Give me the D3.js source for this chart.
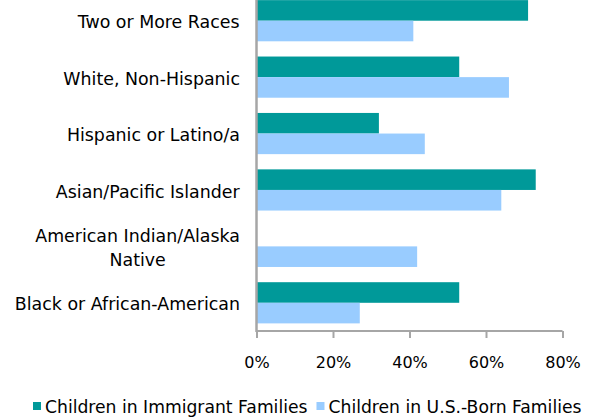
<!DOCTYPE html>
<html><head><meta charset="utf-8">
<script src="https://cdn.jsdelivr.net/npm/d3@7"></script>
<style>body{margin:0;background:#fff}svg{display:block}text{font-family:"DejaVu Sans",sans-serif;fill:#000}</style>
</head><body>
<svg id="c" width="595" height="417"></svg>
<script>
const categories = ["Two or More Races","White, Non-Hispanic","Hispanic or Latino/a","Asian/Pacific Islander","American Indian/Alaska Native","Black or African-American"];
const labelLines = [["Two or More Races"],["White, Non-Hispanic"],["Hispanic or Latino/a"],["Asian/Pacific Islander"],["American Indian/Alaska","Native"],["Black or African-American"]];
const seriesNames = ["Children in Immigrant Families","Children in U.S.-Born Families"];
const immigrant = [71,53,32,73,null,53];
const usBorn = [41,66,44,64,42,27];
const ticks = [0,20,40,60,80];
const colors = ["#009999","#99CCFF"];

const svg = d3.select("#c");
const x = d3.scaleLinear().domain([0,80]).range([256.5,562.5]);
const y = d3.scaleBand().domain(categories).range([-7.5,331]).paddingInner(0.27).paddingOuter(0.135);
const sub = d3.scaleBand().domain([0,1]).range([0,y.bandwidth()]);
const series = [immigrant, usBorn];

series.forEach((vals,si)=>{
  svg.append("g").selectAll("rect").data(categories.map((c,i)=>({c,v:vals[i]})).filter(d=>d.v!=null))
    .join("rect")
    .attr("x",x(0)).attr("y",d=>y(d.c)+sub(si))
    .attr("width",d=>x(d.v)-x(0)).attr("height",sub.bandwidth())
    .attr("fill",colors[si]);
});

// x axis
const xa = svg.append("g").attr("transform","translate(0,331)")
  .call(d3.axisBottom(x).tickValues(ticks).tickFormat(d=>d+"%").tickSize(7).tickPadding(19));
xa.select(".domain").attr("stroke","#A6A6A6").attr("stroke-width",2).attr("d",`M${x(0)},0H${x(80)}`);
xa.selectAll(".tick line").attr("stroke","#A6A6A6").attr("stroke-width",2);
xa.selectAll(".tick text").attr("font-size",16).attr("font-family","DejaVu Sans").attr("fill","#000");

// y axis line
svg.append("line").attr("x1",x(0)).attr("x2",x(0)).attr("y1",0).attr("y2",332)
  .attr("stroke","#A6A6A6").attr("stroke-width",2.5);

// category labels
categories.forEach((c,i)=>{
  const lines = labelLines[i];
  const cy = y(c)+y.bandwidth()/2;
  const lh = 24;
  const t = svg.append("text").attr("font-size",17.4).attr("text-anchor","middle");
  lines.forEach((ln,j)=>{
    t.append("tspan").attr("x",0).attr("y",cy + 1.5 + (j-(lines.length-1)/2)*lh).attr("dy","0.35em").text(ln);
  });
  const w = t.node().getBBox().width;
  t.attr("transform",`translate(${240-w/2},0)`);
});

// legend
const lg = svg.append("g");
let lx = 33;
seriesNames.forEach((n,i)=>{
  lg.append("rect").attr("x",lx).attr("y",402).attr("width",8).attr("height",8).attr("fill",colors[i]);
  const t = lg.append("text").attr("x",lx+12).attr("y",407).attr("dy","0.35em").attr("font-size",17.2).text(n);
  lx += 12 + t.node().getComputedTextLength() + 9;
});
</script>
</body></html>
